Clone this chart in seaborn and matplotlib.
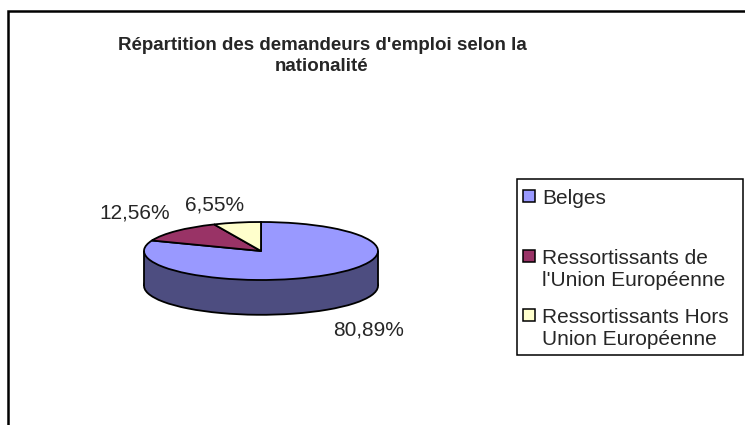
import matplotlib
matplotlib.use("Agg")
import matplotlib.pyplot as plt
from matplotlib.patches import Rectangle
import seaborn as sns

# Données
nationalites = ["Belges", "Ressortissants de\nl'Union Européenne", "Ressortissants Hors\nUnion Européenne"]
parts = [80.89, 12.56, 6.55]
etiquettes = ["80,89%", "12,56%", "6,55%"]
couleurs = ["#9999FF", "#993366", "#FFFFCC"]
couleurs_cote = ["#4D4D80", "#4D1A33", "#808066"]
titre = "Répartition des demandeurs d'emploi selon la\nnationalité"

sns.set_theme(style="white")
plt.rcParams["font.family"] = ["Liberation Sans", "DejaVu Sans"]

W, H = 745, 425
fig = plt.figure(figsize=(W / 100, H / 100), dpi=100)
ax = fig.add_axes([0, 0, 1, 1])

# centre et demi-axes de l'ellipse (pixels)
cx, cy, rx, ry = 261, 251, 117, 29
profondeur = 1.2
trait = 1.3

def fx(px):
    return px / W

def fy(py):
    return 1 - py / H

# face du bas (côté visible)
ax.pie(parts, colors=couleurs_cote, startangle=90, counterclock=False,
       center=(0, -profondeur), radius=1,
       wedgeprops=dict(edgecolor="black", linewidth=trait))
ax.add_patch(Rectangle((-1, -profondeur), 2, profondeur,
                       facecolor=couleurs_cote[0], edgecolor="none"))
ax.add_patch(Rectangle((-0.8, -profondeur - 0.2), 1.6, 0.4,
                       facecolor=couleurs_cote[0], edgecolor="none"))
ax.vlines([-1, 1], -profondeur, 0, colors="black", linewidth=trait)

# face du dessus
wedges, _ = ax.pie(parts, colors=couleurs, startangle=90, counterclock=False,
                   center=(0, 0), radius=1,
                   wedgeprops=dict(edgecolor="black", linewidth=trait))

ax.set_aspect("auto")
ax.set_xlim((0 - cx) / rx, (W - cx) / rx)
ax.set_ylim((cy - H) / ry, cy / ry)
ax.axis("off")

# cadre du graphique
fig.add_artist(Rectangle((fx(8), fy(440)), fx(760) - fx(8), fy(11) - fy(440),
                         transform=fig.transFigure, fill=False,
                         edgecolor="black", linewidth=1.8))

# titre
fig.text(fx(322), fy(56), titre, ha="center", va="center", fontsize=13.5,
         fontweight="bold", linespacing=1.3)

# étiquettes de pourcentage
pos_etiquettes = [(369, 330), (135, 213), (215, 205)]
for txt, (px, py) in zip(etiquettes, pos_etiquettes):
    fig.text(fx(px), fy(py), txt, ha="center", va="center", fontsize=15)

# légende
fig.add_artist(Rectangle((fx(517), fy(355)), fx(743) - fx(517), fy(179) - fy(355),
                         transform=fig.transFigure, fill=False,
                         edgecolor="black", linewidth=1.1))
lignes = [199, 259, 318]
for nom, coul, py in zip(nationalites, couleurs, lignes):
    fig.add_artist(Rectangle((fx(523), fy(py + 3)), fx(535) - fx(523), fy(py - 9) - fy(py + 3),
                             transform=fig.transFigure, facecolor=coul,
                             edgecolor="black", linewidth=1.1))
    fig.text(fx(542), fy(py - 10), nom, ha="left", va="top", fontsize=15)

fig.savefig("out.png", dpi=100)
